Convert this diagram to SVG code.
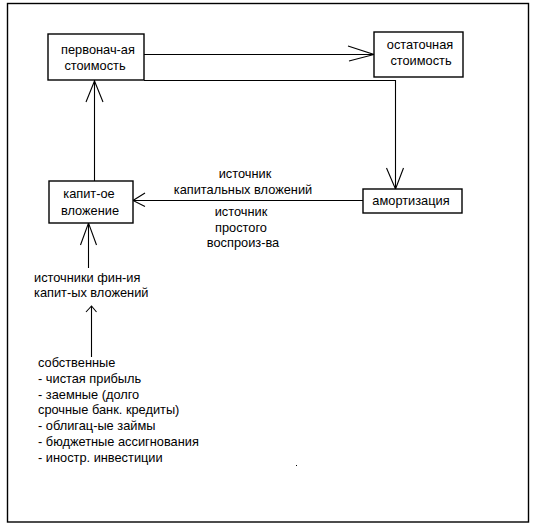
<svg xmlns="http://www.w3.org/2000/svg" width="540" height="529" viewBox="0 0 540 529">
<style>
.box{fill:#fff;stroke:#000;stroke-width:1.4}
.ln{fill:none;stroke:#000;stroke-width:1.1}
.t{font-family:"Liberation Sans",Arial,sans-serif;font-size:12.8px;fill:#000}
.c{text-anchor:middle}
</style>
<rect x="7.5" y="3.5" width="521" height="518.5" fill="#fff" stroke="#000" stroke-width="1.4"/>
<g id="connectors">
<path class="ln" d="M144,54.5 H374"/>
<path class="ln" d="M348,46 L374,54.5 L349,61"/>
<path class="ln" d="M144,80.5 H395.5 V189"/>
<path class="ln" d="M386.5,168 L395.5,189 L403.5,168"/>
<path class="ln" d="M363,200.5 H133"/>
<path class="ln" d="M145,193 L133,200.5 L145,206.5"/>
<path class="ln" d="M94.5,181 V80"/>
<path class="ln" d="M86,102 L94.5,81 L103,102"/>
<path class="ln" d="M88.5,268 V223"/>
<path class="ln" d="M80.5,245 L88.5,223 L96.5,245"/>
<path class="ln" d="M91.5,357 V306"/>
<path class="ln" d="M86,312 L91.5,306 L96.5,312"/>
<text class="t c" x="245" y="178">источник</text>
<text class="t c" x="243" y="194">капитальных вложений</text>
<text class="t c" x="241" y="216">источник</text>
<text class="t c" x="241" y="232">простого</text>
<text class="t c" x="243" y="247">воспроиз-ва</text>
</g>
<g id="perv">
<rect class="box" x="48" y="34" width="96" height="46"/>
<text class="t c" x="98" y="54">первонач-ая</text>
<text class="t c" x="95" y="69.5">стоимость</text>
</g>
<g id="ostat">
<rect class="box" x="374" y="32" width="89" height="45"/>
<text class="t c" x="420" y="49">остаточная</text>
<text class="t c" x="421" y="65">стоимость</text>
</g>
<g id="amort">
<rect class="box" x="363" y="189" width="99" height="24"/>
<text class="t c" x="411" y="205">амортизация</text>
</g>
<g id="kapit">
<rect class="box" x="49" y="181" width="84" height="42"/>
<text class="t c" x="89" y="198">капит-ое</text>
<text class="t c" x="90" y="215">вложение</text>
</g>
<g id="istochniki">
<text class="t" x="34" y="282">источники фин-ия</text>
<text class="t" x="34" y="297">капит-ых вложений</text>
</g>
<g id="list">
<text class="t" x="38" y="367">собственные</text>
<text class="t" x="38" y="383">- чистая прибыль</text>
<text class="t" x="38" y="399">- заемные (долго</text>
<text class="t" x="38" y="414">срочные банк. кредиты)</text>
<text class="t" x="38" y="430">- облигац-ые займы</text>
<text class="t" x="38" y="446">- бюджетные ассигнования</text>
<text class="t" x="38" y="462">- иностр. инвестиции</text>
</g>
<rect x="296" y="465" width="1" height="1" fill="#000"/>
</svg>
